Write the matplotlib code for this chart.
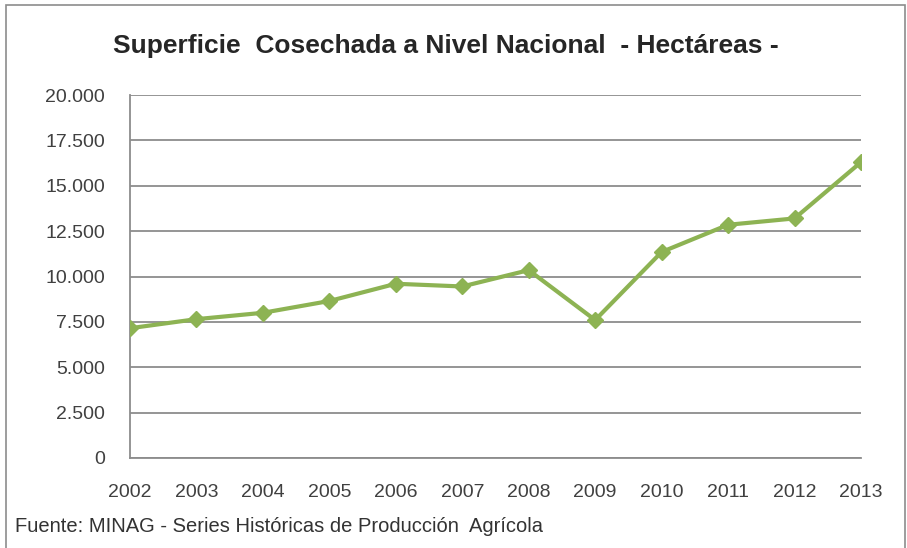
import matplotlib.pyplot as plt
from matplotlib.patches import Rectangle
from matplotlib.ticker import FuncFormatter

years = ['2002', '2003', '2004', '2005', '2006', '2007', '2008', '2009',
         '2010', '2011', '2012', '2013']
hectareas = [7150, 7650, 8000, 8650, 9600, 9450, 10350, 7600,
             11350, 12850, 13200, 16300]
y_ticks = [0, 2500, 5000, 7500, 10000, 12500, 15000, 17500, 20000]

plt.rcParams['font.family'] = ['Liberation Sans', 'DejaVu Sans']

fig = plt.figure(figsize=(9.07, 5.48), dpi=100)
ax = fig.add_axes([130 / 907, 1 - 458 / 548, 731 / 907, 363 / 548])

x = list(range(len(years)))
ax.plot(x, hectareas, color='#8db353', lw=3, marker='D', ms=8,
        markeredgecolor='#8db353', zorder=3)

ax.set_xlim(0, len(years) - 1)
ax.set_ylim(0, 20000)
ax.set_yticks(y_ticks)
ax.yaxis.set_major_formatter(FuncFormatter(lambda v, p: f'{int(v):,}'.replace(',', '.')))
ax.set_xticks(x)
ax.set_xticklabels(years)
ax.yaxis.grid(True, color='#8c8c8c', lw=1.3)
ax.set_axisbelow(True)
ax.tick_params(length=0, labelsize=14, colors='#404040')
ax.tick_params(axis='y', pad=18)
ax.tick_params(axis='x', pad=19)
for s in ['top', 'right']:
    ax.spines[s].set_visible(False)
for s in ['left', 'bottom']:
    ax.spines[s].set_color('#8c8c8c')
    ax.spines[s].set_linewidth(1.3)

fig.text(446 / 907, 1 - 46 / 548, 'Superficie  Cosechada a Nivel Nacional  - Hectáreas -',
         ha='center', va='center', fontsize=19, fontweight='bold', color='#262626')
fig.text(15 / 907, 1 - 527 / 548, 'Fuente: MINAG - Series Históricas de Producción  Agrícola',
         ha='left', va='center', fontsize=14.5, color='#333333')

fig.patches.append(Rectangle((6 / 907, -0.01), 899 / 907, 1 - 5 / 548 + 0.01,
                             transform=fig.transFigure, fill=False,
                             edgecolor='#8c8c8c', lw=1.2))

fig.savefig('out.png', dpi=100)
